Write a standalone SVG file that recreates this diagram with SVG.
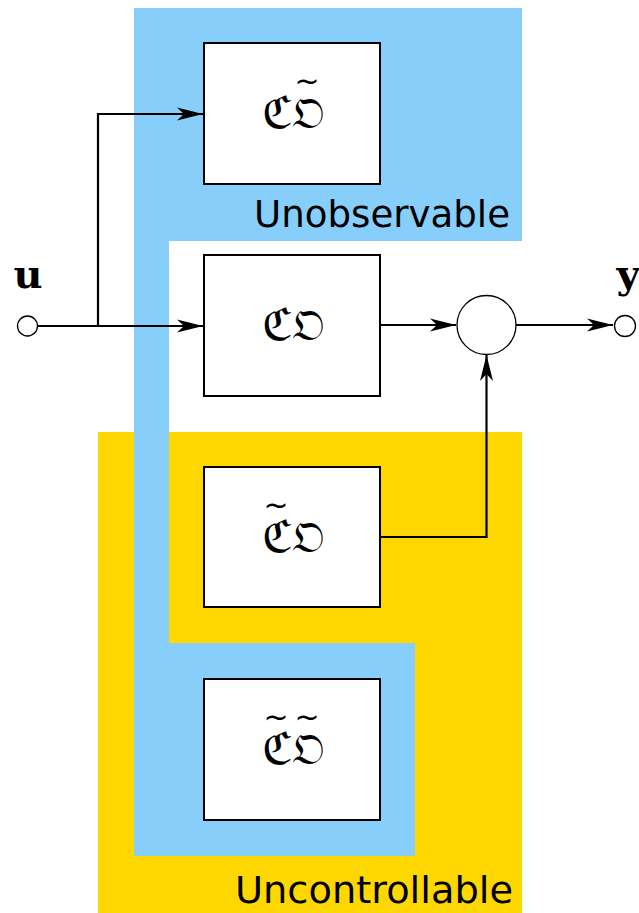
<svg xmlns="http://www.w3.org/2000/svg" width="639" height="913" viewBox="0 0 639 913">
<style>
.box{fill:#fff;stroke:#000;stroke-width:2}
.wire{fill:none;stroke:#000;stroke-width:2.2}
.term{fill:#fff;stroke:#000;stroke-width:1.3}
.sym{font-family:"DejaVu Serif","DejaVu Sans","Noto Sans",serif;font-size:44px}
.til{font-family:"DejaVu Sans","Liberation Sans",sans-serif;font-size:30px}
.lbl{font-family:"DejaVu Sans","Liberation Sans",sans-serif;font-size:38px}
.var{font-family:"DejaVu Serif","Liberation Serif",serif;font-weight:bold;font-size:40px;text-anchor:middle}
</style>
<defs>
<marker id="arr" markerUnits="userSpaceOnUse" markerWidth="30" markerHeight="16" viewBox="-28 -8 30 16" refX="0" refY="0" orient="auto">
<path d="M0,0 L-26,-6.5 L-19,0 L-26,6.5 Z" fill="#000"/>
</marker>
</defs>
<g id="regions">
<rect id="uncontrollable-region" x="98" y="432" width="424" height="481" fill="#FFD700"/>
<path id="unobservable-region" d="M134,8 H522 V241 H169 V643 H415 V856 H134 Z" fill="#87CEFA"/>
<text class="lbl" x="510" y="227" text-anchor="end" textLength="256" lengthAdjust="spacingAndGlyphs">Unobservable</text>
<text class="lbl" x="513" y="903" text-anchor="end" textLength="278" lengthAdjust="spacingAndGlyphs">Uncontrollable</text>
</g>
<g id="connectors">
<path class="wire" d="M38,326 H203" marker-end="url(#arr)"/>
<path class="wire" d="M98,326 V114 H203" marker-end="url(#arr)"/>
<path class="wire" d="M380,325 H456" marker-end="url(#arr)"/>
<path class="wire" d="M516,325 H613" marker-end="url(#arr)"/>
<path class="wire" d="M380,537 H486.5 V355" marker-end="url(#arr)"/>
</g>
<g id="box-cobar">
<rect class="box" x="204" y="43" width="176" height="141"/>
<text class="sym"><tspan x="262" y="128">ℭ</tspan><tspan x="292" y="128">𝔒</tspan><tspan class="til" x="307" y="91" text-anchor="middle">~</tspan></text>
</g>
<g id="box-co">
<rect class="box" x="204" y="255" width="176" height="141"/>
<text class="sym"><tspan x="262" y="340">ℭ</tspan><tspan x="292" y="340">𝔒</tspan></text>
</g>
<g id="box-cbaro">
<rect class="box" x="204" y="467" width="176" height="140"/>
<text class="sym"><tspan x="262" y="552">ℭ</tspan><tspan x="292" y="552">𝔒</tspan><tspan class="til" x="276" y="515" text-anchor="middle">~</tspan></text>
</g>
<g id="box-cbarobar">
<rect class="box" x="204" y="679" width="176" height="141"/>
<text class="sym"><tspan x="262" y="764">ℭ</tspan><tspan x="292" y="764">𝔒</tspan><tspan class="til" x="276" y="727" text-anchor="middle">~</tspan><tspan class="til" x="307" y="727" text-anchor="middle">~</tspan></text>
</g>
<g id="sum">
<circle class="term" cx="486.5" cy="325" r="29.5"/>
</g>
<g id="input">
<circle class="term" cx="27.5" cy="326" r="10"/>
<text class="var" x="28" y="288">u</text>
</g>
<g id="output">
<circle class="term" cx="625" cy="326" r="10.5"/>
<text class="var" x="628" y="288">y</text>
</g>
</svg>
